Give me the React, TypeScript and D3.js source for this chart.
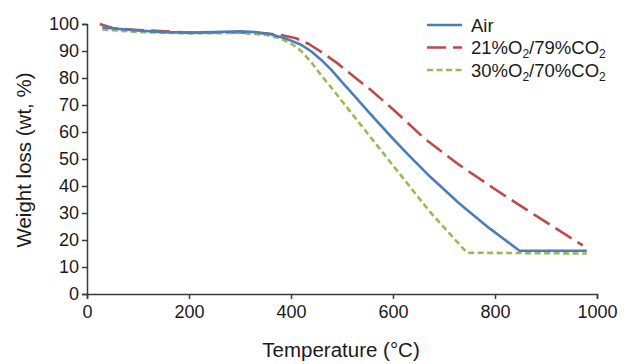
import { useEffect, useRef } from "react"
import * as d3 from "d3"

// temperature (°C), weight (wt %)
const airT = [30, 60, 100, 150, 200, 250, 300, 330, 360, 390, 420, 440, 460, 480, 500, 530, 555, 600, 633, 673, 730, 790, 848, 980]
const airW = [98.8, 98.2, 97.6, 97, 96.8, 97, 97.3, 97, 96.2, 94.6, 92.3, 89.8, 86.6, 82.8, 78.5, 72.2, 66.8, 57.5, 51, 43.4, 33.5, 24.2, 16, 16]

const o21T = [25, 50, 100, 200, 300, 350, 380, 410, 435, 460, 490, 520, 555, 600, 663, 730, 800, 880, 972]
const o21W = [100, 98.5, 97.8, 96.8, 96.9, 96.6, 95.9, 94.7, 92.6, 89.6, 85.6, 81, 75.8, 68.4, 57.4, 47.8, 38.8, 29, 18]

const o30T = [30, 100, 200, 300, 350, 378, 400, 420, 440, 460, 480, 555, 600, 673, 745, 980]
const o30W = [98, 97, 96.5, 96.7, 96, 94.7, 92.8, 90, 85.8, 80.8, 76.2, 58.3, 47.6, 30.3, 15.3, 15]

const xTicks = [0, 200, 400, 600, 800, 1000]
const yTicks = [0, 10, 20, 30, 40, 50, 60, 70, 80, 90, 100]

const series = [
    { name: ['21%O', '2', '/79%CO', '2'], t: o21T, w: o21W, color: '#be4b48', dash: '19,7' },
    { name: ['30%O', '2', '/70%CO', '2'], t: o30T, w: o30W, color: '#98b954', dash: '6,3.5' },
    { name: ['Air'], t: airT, w: airW, color: '#4a7ebb', dash: null },
]
const legendOrder = [2, 0, 1]

export default function App() {
    const ref = useRef(null)

    useEffect(() => {
        const width = 625, height = 364
        const margin = { top: 24, left: 87, bottom: 70, right: 28 }
        const font = "'Liberation Sans', Arial, sans-serif"

        const svg = d3.select(ref.current)
        svg.selectAll('*').remove()

        const g = svg.append('g')
            .attr('transform', `translate(${margin.left}, ${margin.top})`)

        const w = width - margin.left - margin.right
        const h = height - margin.top - margin.bottom

        const xScale = d3.scaleLinear().domain([0, 1000]).range([0, w])
        const yScale = d3.scaleLinear().domain([0, 100]).range([h, 0])

        const xAxis = d3.axisBottom(xScale).tickValues(xTicks).tickFormat(d3.format('d'))
            .tickSizeOuter(0).tickSize(5).tickPadding(6)
        const yAxis = d3.axisLeft(yScale).tickValues(yTicks).tickSizeOuter(0).tickSize(5).tickPadding(3)

        const styleAxis = (sel) => {
            sel.select('.domain').attr('stroke', '#3a3a3a').attr('stroke-width', 1.5)
            sel.selectAll('line').attr('stroke', '#3a3a3a').attr('stroke-width', 1.5)
            sel.selectAll('text')
                .attr('fill', '#1a1a1a')
                .style('font-family', font)
                .style('font-size', '18px')
        }

        g.append('g')
            .attr('transform', `translate(0, ${h})`)
            .call(xAxis)
            .call(styleAxis)

        g.append('g')
            .call(yAxis)
            .call(styleAxis)

        const linePath = d3.line()
            .x((d) => xScale(d[0]))
            .y((d) => yScale(d[1]))
            .curve(d3.curveLinear)

        series.forEach((s) => {
            g.append('path')
                .attr('fill', 'none')
                .attr('stroke', s.color)
                .attr('stroke-width', 2.6)
                .attr('stroke-linejoin', 'round')
                .attr('stroke-dasharray', s.dash)
                .attr('d', linePath(s.t.map((t, i) => [t, s.w[i]])))
        })

        // legend
        const legend = svg.append('g').attr('transform', 'translate(427, 25)')
        legendOrder.forEach((k, i) => {
            const s = series[k]
            const row = legend.append('g').attr('transform', `translate(0, ${i * 22.5})`)
            row.append('line')
                .attr('x1', 0).attr('x2', 35)
                .attr('stroke', s.color)
                .attr('stroke-width', 2.6)
                .attr('stroke-dasharray', s.dash)
            const text = row.append('text')
                .attr('x', 44)
                .attr('y', 6.5)
                .attr('fill', '#1a1a1a')
                .style('font-family', font)
                .style('font-size', '18.5px')
            s.name.forEach((part, j) => {
                if (j % 2 === 1) {
                    text.append('tspan').attr('dy', 4).style('font-size', '12px').text(part)
                } else {
                    text.append('tspan').attr('dy', j === 0 ? 0 : -4).text(part)
                }
            })
        })

        svg.append('text')
            .attr('x', 341)
            .attr('y', 357)
            .attr('text-anchor', 'middle')
            .attr('fill', '#1a1a1a')
            .style('font-family', font)
            .style('font-size', '20.5px')
            .text('Temperature (°C)')

        svg.append('text')
            .attr('transform', 'translate(31, 160) rotate(-90)')
            .attr('text-anchor', 'middle')
            .attr('fill', '#1a1a1a')
            .style('font-family', font)
            .style('font-size', '20.5px')
            .text('Weight loss (wt, %)')
    }, [])

    return (
        <div style={{ position: 'absolute', left: 0, top: 0 }}>
            <svg ref={ref} width={625} height={364} style={{ display: 'block', background: '#fff' }}></svg>
        </div>
    )
}
